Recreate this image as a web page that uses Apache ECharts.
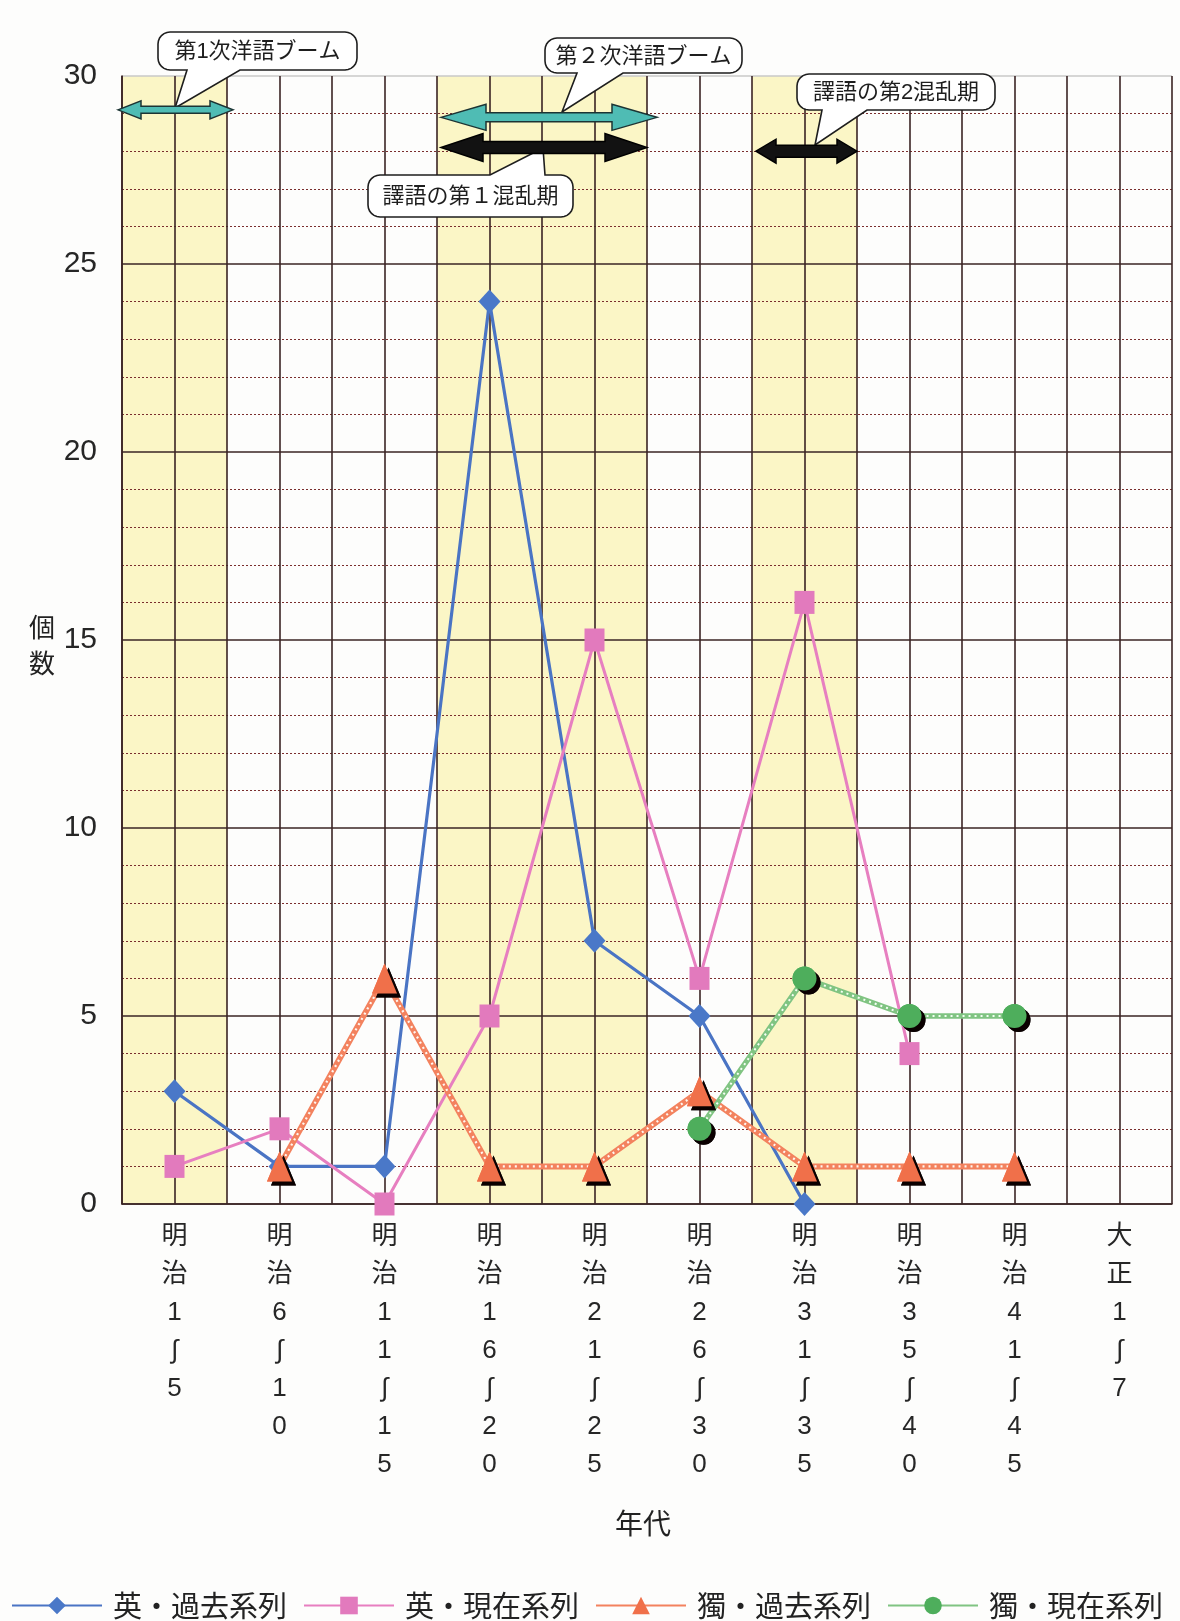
<!DOCTYPE html>
<html><head><meta charset="utf-8">
<script src="https://cdn.jsdelivr.net/npm/echarts@6/dist/echarts.min.js"></script>
<style>html,body{margin:0;padding:0;background:#fdfdfc;}#c{width:1180px;height:1621px;}</style>
</head><body><div id="c"></div>
<script>
// ---- data ----
const categories = ['明治1〜5','明治6〜10','明治11〜15','明治16〜20','明治21〜25','明治26〜30','明治31〜35','明治35〜40','明治41〜45','大正1〜7'];
const yTicks = [0,5,10,15,20,25,30];
const seriesNames = ['英・過去系列','英・現在系列','獨・過去系列','獨・現在系列'];
const engPast = [3,1,1,24,7,5,0,null,null,null];
const engNow  = [1,2,0,5,15,6,16,4,null,null];
const gerPast = [null,1,6,1,1,3,1,1,1,null];
const gerNow  = [null,null,null,null,null,2,6,5,5,null];
const shadedCategories = [[0,0],[3,4],[6,6]];
const periodArrows = [[0,0,29.1],[3,4,28.9],[3,4,28.1],[6,6,28.0]]; // [fromCat, toCat, yValue]
const calloutTexts = ['第1次洋語ブーム','第２次洋語ブーム','譯語の第１混乱期','譯語の第2混乱期'];
const axisNames = {y:'個\n数', x:'年代'};

// ---- styles ----
const GRID = '#3a2424';
const FONT_JP = "'Noto Sans CJK JP', sans-serif";
const FONT_NUM = "'Liberation Sans', 'Noto Sans CJK JP', sans-serif";
const shadow = {shadowColor:'rgba(10,0,0,0.95)', shadowBlur:0, shadowOffsetX:4, shadowOffsetY:4};

function series(name, data, symbol, size, color, lineColor, width, extra){
  return Object.assign({
    name, type:'line', data, symbol, symbolSize:size, showSymbol:true, connectNulls:false,
    itemStyle:{color}, lineStyle:{color:lineColor, width}, emphasis:{disabled:true}
  }, extra||{});
}

const option = {
  animation:false,
  backgroundColor:'#fdfdfc',
  grid:{left:122, right:8, top:76, bottom:417, containLabel:false, outerBoundsMode:'none', show:false},
  legend:{
    data:seriesNames, left:6, top:1586, itemWidth:90, itemHeight:22, itemGap:16, selectedMode:false,
    textStyle:{fontSize:29, fontFamily:FONT_JP, color:'#222', padding:[0,0,0,6]}
  },
  xAxis:{
    type:'category', data:categories, boundaryGap:true,
    axisLine:{show:true, lineStyle:{color:GRID, width:1.6}},
    axisTick:{show:true, alignWithLabel:true, inside:true, length:1128, lineStyle:{color:GRID, width:1.6}},
    splitLine:{show:true, interval:0, lineStyle:{color:GRID, width:1.6}},
    axisLabel:{interval:0, margin:14, fontSize:26, lineHeight:38, color:'#262626', fontFamily:FONT_NUM,
      formatter:v=>v.split('').map(c=>c==='〜'?'∫':c).join('\n')}
  },
  yAxis:{
    type:'value', min:yTicks[0], max:yTicks[yTicks.length-1], interval:yTicks[1]-yTicks[0],
    axisLine:{show:true, lineStyle:{color:GRID, width:1.6}},
    axisTick:{show:false},
    axisLabel:{fontSize:30, margin:25, color:'#262626', fontFamily:FONT_NUM},
    splitLine:{show:true, lineStyle:{color:[GRID,GRID,GRID,GRID,GRID,GRID,'#c8c8c8'], width:1.6}},
    minorTick:{show:false, splitNumber:5},
    minorSplitLine:{show:true, lineStyle:{color:'#7a2e2e', width:1, type:[2,2]}}
  },
  series:[
    series(seriesNames[0], engPast, 'diamond', [22,24], '#4a78c8', '#4a74c4', 3.2),
    series(seriesNames[1], engNow, 'rect', [20,23], '#e27abd', '#e77fc0', 3),
    series(seriesNames[2], gerPast, 'triangle', [25,30], '#f0704a', '#f3825e', 6, {itemStyle:Object.assign({color:'#f0704a'}, shadow)}),
    series('_gp', gerPast, 'triangle', [25,30], '#f0704a', '#ffffff', 2, {itemStyle:Object.assign({color:'#f0704a'}, shadow), lineStyle:{color:'#fff6f0', width:2.2, type:[2,4]}, silent:true}),
    series(seriesNames[3], gerNow, 'circle', 24, '#4eae5c', '#80c482', 5.5, {itemStyle:Object.assign({color:'#4eae5c'}, shadow)}),
    series('_gn', gerNow, 'circle', 24, '#4eae5c', '#ffffff', 2, {itemStyle:Object.assign({color:'#4eae5c'}, shadow), lineStyle:{color:'#f4fff4', width:2, type:[2,4]}, silent:true})
  ]
};

const chart = echarts.init(document.getElementById('c'), null, {renderer:'canvas'});
chart.setOption(option);

// ---- annotations anchored to axes ----
function px(ci, v){ return chart.convertToPixel({xAxisIndex:0, yAxisIndex:0}, [ci, v]); }
const band = px(1,0)[0] - px(0,0)[0];
const yTop = px(0, yTicks[yTicks.length-1])[1], yBot = px(0, yTicks[0])[1];
const els = [];
shadedCategories.forEach(([a,b])=>{
  const x0 = px(a,0)[0]-band/2, x1 = px(b,0)[0]+band/2;
  els.push({type:'rect', z:-10, silent:true, shape:{x:x0, y:yTop, width:x1-x0, height:yBot-yTop}, style:{fill:'#fbf6c6'}});
});

const calloutGeom = [
  {x0:158,y0:32,x1:357,y1:70, side:'bottom', b0:187,b1:240, tx:175, ty:108},
  {x0:545,y0:38,x1:742,y1:73, side:'bottom', b0:577,b1:623, tx:562, ty:112},
  {x0:368,y0:175,x1:573,y1:217, side:'top', b0:490,b1:545, tx:543, ty:148},
  {x0:797,y0:74,x1:995,y1:110, side:'bottom', b0:822,b1:867, tx:815, ty:145}
];
function calloutPts(c, r){
  const pts=[];
  const arc=(cx,cy,a0,a1)=>{for(let i=0;i<=6;i++){const a=a0+(a1-a0)*i/6; pts.push([cx+r*Math.cos(a), cy+r*Math.sin(a)]);}};
  arc(c.x0+r,c.y0+r,Math.PI,1.5*Math.PI);
  if(c.side==='top') pts.push([c.b0,c.y0],[c.tx,c.ty],[c.b1,c.y0]);
  arc(c.x1-r,c.y0+r,1.5*Math.PI,2*Math.PI);
  arc(c.x1-r,c.y1-r,0,0.5*Math.PI);
  if(c.side==='bottom') pts.push([c.b1,c.y1],[c.tx,c.ty],[c.b0,c.y1]);
  arc(c.x0+r,c.y1-r,0.5*Math.PI,Math.PI);
  return pts;
}
calloutGeom.forEach((c,i)=>{
  els.push({type:'polygon', z:100, silent:true, shape:{points:calloutPts(c,12)}, style:{fill:'#ffffff', stroke:'#1e1e1e', lineWidth:1.6}});
  els.push({type:'text', z:101, silent:true, style:{text:calloutTexts[i], x:(c.x0+c.x1)/2, y:(c.y0+c.y1)/2+1, align:'center', verticalAlign:'middle', fontSize:22, fontFamily:FONT_NUM, fill:'#1e1e1e'}});
});

const arrowStyles = [
  {fill:'#4fbcb4', stroke:'#1c3434', dl:-4, dr:6, hl:23, hh:9, sh:3.5},
  {fill:'#4fbcb4', stroke:'#1c3434', dl:4, dr:10, hl:45, hh:13, sh:4.5},
  {fill:'#121212', stroke:'#000', dl:4, dr:0, hl:42, hh:14, sh:6},
  {fill:'#121212', stroke:'#000', dl:4, dr:0, hl:20, hh:12, sh:6}
];
periodArrows.forEach(([a,b,v],i)=>{
  const s = arrowStyles[i];
  const x1 = px(a,0)[0]-band/2 + s.dl, x2 = px(b,0)[0]+band/2 + s.dr, y = px(a,v)[1];
  const pts = [[x1,y],[x1+s.hl,y-s.hh],[x1+s.hl,y-s.sh],[x2-s.hl,y-s.sh],[x2-s.hl,y-s.hh],[x2,y],[x2-s.hl,y+s.hh],[x2-s.hl,y+s.sh],[x1+s.hl,y+s.sh],[x1+s.hl,y+s.hh]];
  els.push({type:'polygon', z:102, silent:true, shape:{points:pts}, style:{fill:s.fill, stroke:s.stroke, lineWidth:1.5}});
});

els.push({type:'text', z:50, silent:true, style:{text:axisNames.y, x:42, y:645, align:'center', verticalAlign:'middle', fontSize:26, lineHeight:36, fontFamily:FONT_JP, fill:'#222'}});
els.push({type:'text', z:50, silent:true, style:{text:axisNames.x, x:643, y:1523, align:'center', verticalAlign:'middle', fontSize:28, fontFamily:FONT_JP, fill:'#222'}});

chart.setOption({graphic:{elements:els}});
</script></body></html>
